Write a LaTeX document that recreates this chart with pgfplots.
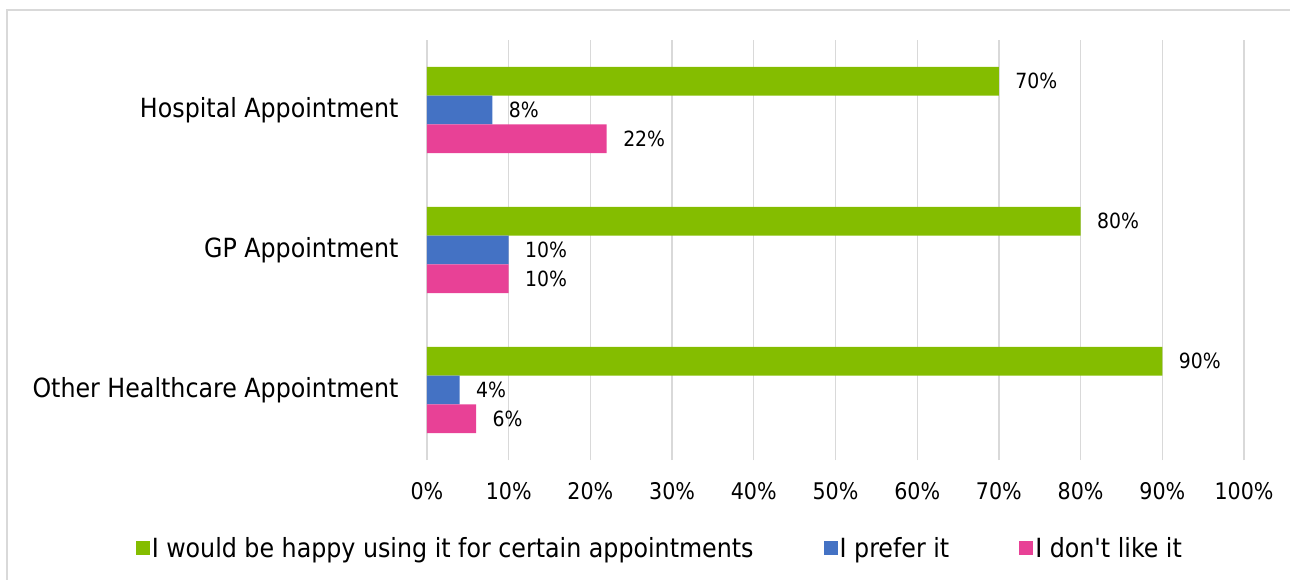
\documentclass[border=0pt]{standalone}
\usepackage{pgfplots}
\pgfplotsset{compat=1.18}
\usepackage{fontspec}
\setmainfont{DejaVu Sans Condensed}
\definecolor{cgreen}{RGB}{132,189,0}
\definecolor{cblue}{RGB}{68,114,196}
\definecolor{cpink}{RGB}{232,65,150}
\definecolor{cgrid}{RGB}{217,217,217}
\begin{document}
\begin{tikzpicture}
\path[use as bounding box] (-427bp,-120bp) rectangle (863bp,460bp);
\draw[cgrid,line width=1.2bp] (-420bp,-125bp) -- (-420bp,450bp) -- (870bp,450bp);
\begin{axis}[
  at={(0,0)}, anchor=south west,
  scale only axis,
  width=817bp, height=420bp,
  xbar,
  xmin=0, xmax=100,
  ymin=-0.5, ymax=2.5,
  bar width=0.205,
  xtick={0,10,...,100},
  xticklabel={\pgfmathprintnumber{\tick}\%},
  ytick={0,1,2},
  yticklabels={Other Healthcare Appointment, GP Appointment, Hospital Appointment},
  xmajorgrids, major grid style={cgrid,line width=1.4bp},
  axis line style={draw=none},
  major tick length=0pt,
  xticklabel style={font=\fontsize{23}{27}\selectfont, yshift=-19bp},
  yticklabel style={font=\fontsize{26.5}{30}\selectfont, xshift=-25bp},
  /pgf/number format/assume math mode=true,
  nodes near coords={\pgfmathprintnumber{\pgfplotspointmeta}\%},
  nodes near coords style={font=\fontsize{21}{24}\selectfont, anchor=west, xshift=13bp, text=black},
  legend style={at={(0.285,-0.21)}, anchor=center, draw=none, font=\fontsize{26.5}{30}\selectfont, legend columns=3,
    /tikz/every even column/.append style={column sep=68bp}},
  legend image code/.code={\fill[#1] (0bp,-7bp) rectangle (14bp,7bp);},
]
\addplot[fill=cgreen, draw=none, bar shift=0.205] coordinates {(90,0) (80,1) (70,2)};
\addplot[fill=cblue, draw=none, bar shift=0] coordinates {(4,0) (10,1) (8,2)};
\addplot[fill=cpink, draw=none, bar shift=-0.205] coordinates {(6,0) (10,1) (22,2)};
\legend{I would be happy using it for certain appointments, I prefer it, I don\textquotesingle t like it}
\end{axis}
\end{tikzpicture}
\end{document}
